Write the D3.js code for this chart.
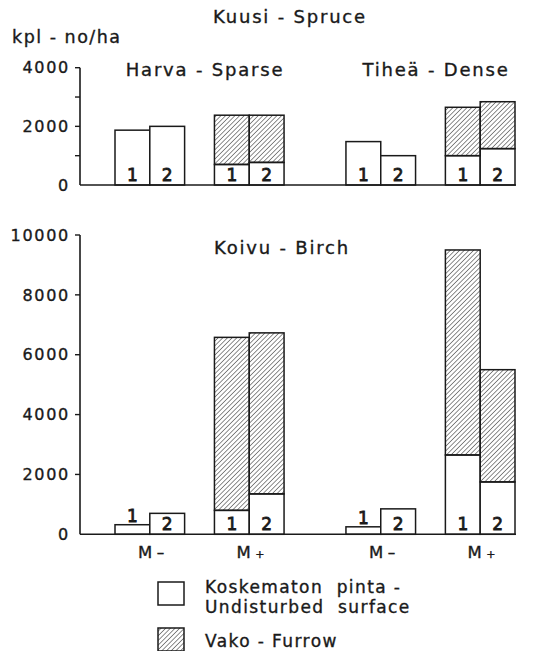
<!DOCTYPE html>
<html>
<head>
<meta charset="utf-8">
<script src="https://cdn.jsdelivr.net/npm/d3@7"></script>
<style>
  html, body { margin: 0; padding: 0; background: #fff; }
  svg text { font-family: "DejaVu Sans", sans-serif; fill: #1a1a1a; stroke: #1a1a1a; stroke-width: 0.35px; }
</style>
</head>
<body>
<svg id="chart" width="533" height="651"></svg>
<script>
// Seedling density, number per hectare
const densities = ["Harva - Sparse", "Tiheä - Dense"];
const treatments = ["M-", "M+"];
const replicates = ["1", "2"];

// Bar order: density × treatment × replicate
const spruceUndisturbed = [1870, 2000, 700, 770, 1480, 1000, 1000, 1240];
const spruceFurrow      = [0, 0, 1680, 1610, 0, 0, 1650, 1600];
const birchUndisturbed  = [320, 700, 800, 1350, 250, 850, 2650, 1750];
const birchFurrow       = [0, 0, 5780, 5380, 0, 0, 6850, 3750];

const spruceTicks = [0, 1000, 2000, 3000, 4000];
const spruceTickLabels = ["0", "", "2000", "", "4000"];
const birchTicks = [0, 2000, 4000, 6000, 8000, 10000];

const legendItems = [
  { key: "undisturbed", lines: ["Koskematon  pinta -", "Undisturbed  surface"] },
  { key: "furrow", lines: ["Vako - Furrow"] }
];

const ink = "#1a1a1a";
const svg = d3.select("#chart");

// Diagonal hatch for the furrow part of each bar
const defs = svg.append("defs");
defs.append("pattern")
  .attr("id", "hatch")
  .attr("patternUnits", "userSpaceOnUse")
  .attr("width", 3.3).attr("height", 3.3)
  .attr("patternTransform", "rotate(45)")
  .append("line")
  .attr("x1", 0).attr("y1", 0).attr("x2", 0).attr("y2", 3.3)
  .attr("stroke", ink).attr("stroke-width", 1.0);

// Horizontal layout shared by both panels
const axisX = 80, axisRight = 516;
const xDensity = d3.scaleBand().domain(densities).range([115, 515]).paddingInner(0.268);
const xTreat = d3.scaleBand().domain(treatments).range([0, xDensity.bandwidth()]).paddingInner(0.3);
const xRep = d3.scaleBand().domain(replicates).range([0, xTreat.bandwidth()]);

const bars = [];
densities.forEach((d, di) => treatments.forEach((t, ti) => replicates.forEach((r, ri) => {
  bars.push({ density: d, treat: t, rep: r, i: di * 4 + ti * 2 + ri });
})));
const barX = b => xDensity(b.density) + xTreat(b.treat) + xRep(b.rep);
const bw = xRep.bandwidth();

function panel(y, undisturbed, furrow, ticks, tickLabels) {
  const g = svg.append("g");
  const y0 = y(0);

  // y axis line and ticks
  g.append("line")
    .attr("x1", axisX).attr("x2", axisX)
    .attr("y1", y0).attr("y2", y(d3.max(ticks)))
    .attr("stroke", ink).attr("stroke-width", 1.6);
  g.selectAll(".tick").data(ticks.filter(v => v > 0)).join("line")
    .attr("x1", axisX - 5).attr("x2", axisX)
    .attr("y1", v => y(v)).attr("y2", v => y(v))
    .attr("stroke", ink).attr("stroke-width", 1.4);
  g.selectAll(".tl").data(ticks).join("text")
    .attr("x", 70).attr("y", v => y(v))
    .attr("dy", "0.36em")
    .attr("text-anchor", "end")
    .attr("font-size", 16).attr("letter-spacing", 1.7)
    .text((v, i) => tickLabels[i]);

  // stacked bars: undisturbed at the bottom, furrow on top
  const bg = g.append("g");
  bg.selectAll(".u").data(bars).join("rect")
    .attr("x", barX).attr("width", bw)
    .attr("y", b => y(undisturbed[b.i]))
    .attr("height", b => y0 - y(undisturbed[b.i]))
    .attr("fill", "#fff").attr("stroke", ink).attr("stroke-width", 1.5);
  bg.selectAll(".f").data(bars.filter(b => furrow[b.i] > 0)).join("rect")
    .attr("x", barX).attr("width", bw)
    .attr("y", b => y(undisturbed[b.i] + furrow[b.i]))
    .attr("height", b => y(undisturbed[b.i]) - y(undisturbed[b.i] + furrow[b.i]))
    .attr("fill", "url(#hatch)").attr("stroke", ink).attr("stroke-width", 1.5);

  // replicate numbers: inside the bar, or above it when the bar is too low
  bg.selectAll(".n").data(bars).join("text")
    .attr("x", b => barX(b) + bw / 2)
    .attr("y", b => {
      const h = y0 - y(undisturbed[b.i]);
      return h < 17 ? y(undisturbed[b.i]) - 3 : y0 - 4;
    })
    .attr("text-anchor", "middle")
    .attr("font-size", 17)
    .style("stroke-width", "0.8px")
    .text(b => b.rep);

  // baseline
  g.append("line")
    .attr("x1", axisX).attr("x2", axisRight)
    .attr("y1", y0).attr("y2", y0)
    .attr("stroke", ink).attr("stroke-width", 1.6);
  return g;
}

// Spruce panel
const ySpruce = d3.scaleLinear().domain([0, 4000]).range([185, 67.7]);
panel(ySpruce, spruceUndisturbed, spruceFurrow, spruceTicks, spruceTickLabels);

// Birch panel
const yBirch = d3.scaleLinear().domain([0, 10000]).range([534.3, 235]);
panel(yBirch, birchUndisturbed, birchFurrow, birchTicks, birchTicks.map(String));

// Titles
const title = (x, y, txt, anchor) => svg.append("text")
  .attr("x", x).attr("y", y).attr("text-anchor", anchor || "start")
  .attr("font-size", 18).attr("letter-spacing", 1.8).text(txt);
title(290, 23, "Kuusi - Spruce", "middle");
title(12, 43, "kpl - no/ha").attr("font-size", 17.5).attr("letter-spacing", 1.5);
title(205, 76, densities[0], "middle");
title(436, 76, densities[1], "middle");
title(282, 254, "Koivu - Birch", "middle");

// Treatment labels under the birch panel
const tl = svg.append("g").selectAll("text")
  .data(densities.flatMap(d => treatments.map(t => ({ d, t }))))
  .join("text")
  .attr("x", o => xDensity(o.d) + xTreat(o.t) + xTreat.bandwidth() / 2 + 2)
  .attr("y", 558)
  .attr("text-anchor", "middle")
  .attr("font-size", 16.5).attr("letter-spacing", 1.5);
tl.append("tspan").text("M");
tl.append("tspan")
  .attr("dx", 3)
  .attr("font-size", o => o.t === "M+" ? 11 : 15)
  .text(o => o.t === "M+" ? "+" : "–");

// Legend
const lg = svg.append("g");
legendItems.forEach((item, i) => {
  const top = i === 0 ? 582 : 628;
  lg.append("rect")
    .attr("x", 158).attr("y", top).attr("width", 26).attr("height", 23)
    .attr("fill", item.key === "furrow" ? "url(#hatch)" : "#fff")
    .attr("stroke", ink).attr("stroke-width", 1.5);
  item.lines.forEach((line, j) => {
    lg.append("text")
      .attr("x", 205).attr("y", (i === 0 ? 593 : 647) + j * 20)
      .attr("font-size", 17).attr("letter-spacing", 1.4)
      .attr("xml:space", "preserve")
      .text(line);
  });
});
</script>
</body>
</html>
